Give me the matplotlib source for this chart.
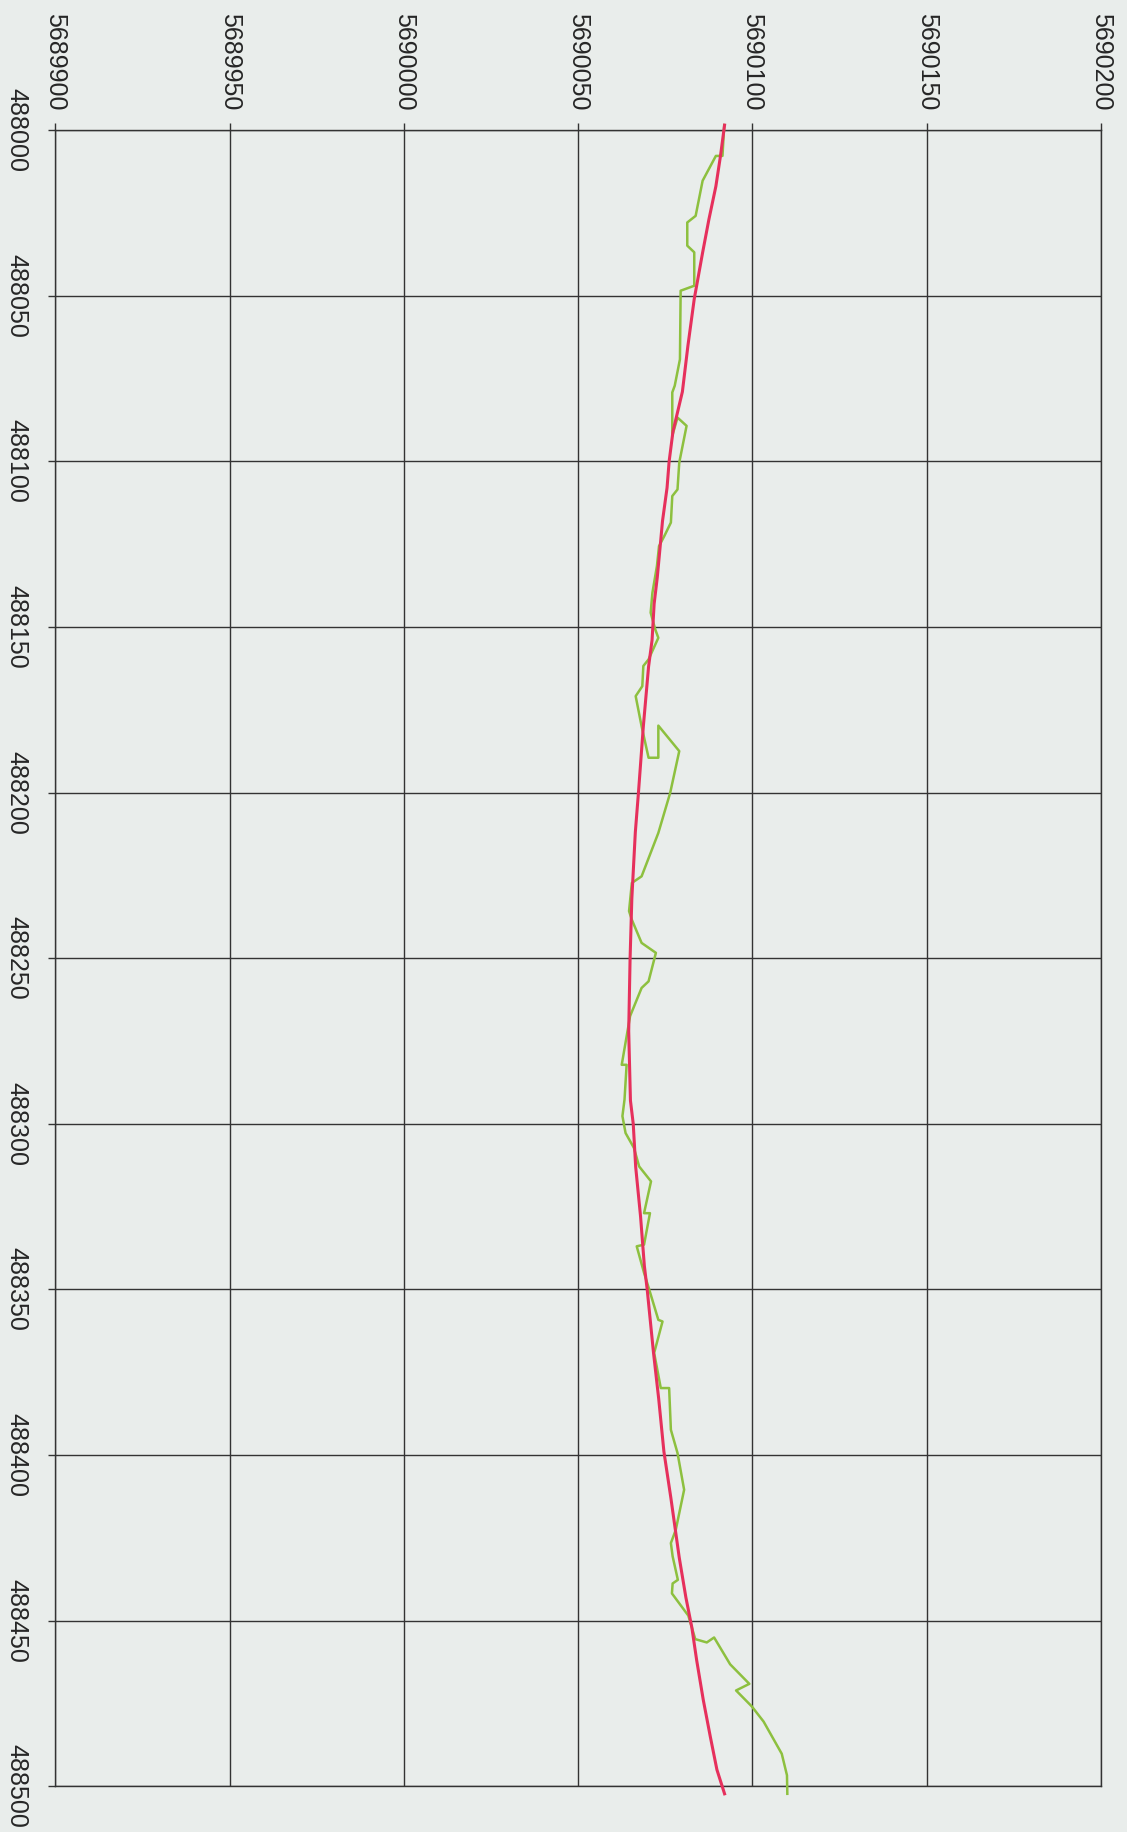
import matplotlib
matplotlib.use("Agg")
import matplotlib.pyplot as plt

# Track data: easting (runs down the page) and northing (runs across)
red_east = [487998.5, 488008, 488017, 488027, 488037, 488051, 488065, 488079,
            488091, 488100, 488108, 488118, 488126, 488135, 488143, 488154,
            488162, 488180, 488200, 488212, 488232, 488250, 488272, 488293,
            488300, 488313, 488328, 488343, 488350, 488369, 488383, 488399,
            488413, 488431, 488443, 488452, 488462, 488474, 488485, 488495,
            488502.3]
red_north = [5690092.0, 5690090.8, 5690089.5, 5690087.5, 5690085.7, 5690083.3,
             5690081.5, 5690079.9, 5690077.2, 5690076.1, 5690075.5, 5690074.2,
             5690073.5, 5690072.7, 5690071.8, 5690071.2, 5690070.2, 5690068.7,
             5690067.3, 5690066.4, 5690065.4, 5690064.9, 5690064.5, 5690065.0,
             5690065.8, 5690066.5, 5690067.9, 5690069.0, 5690069.8, 5690071.6,
             5690073.1, 5690074.6, 5690076.6, 5690079.0, 5690080.9, 5690082.6,
             5690084.0, 5690085.9, 5690087.9, 5690089.8, 5690092.0]

green_east = [487998.5, 488007.8, 488007.8, 488015.3, 488025.9, 488027.9,
              488034.9, 488036.9, 488047.0, 488048.5, 488069.2, 488077.2,
              488079.2, 488092.3, 488086.8, 488089.3, 488100.4, 488108.5,
              488110.5, 488118.5, 488122.6, 488125.6, 488131.6, 488139.7,
              488145.7, 488150.7, 488153.3, 488159.8, 488161.8, 488167.9,
              488170.9, 488180.0, 488189.5, 488189.5, 488179.8, 488187.5,
              488200.1, 488212.2, 488225.3, 488227.3, 488235.8, 488238.4,
              488245.4, 488248.4, 488257.0, 488259.0, 488267.5, 488282.2,
              488282.2, 488292.7, 488297.7, 488302.8, 488307.3, 488312.9,
              488317.4, 488327.0, 488327.0, 488336.5, 488337.0, 488345.0,
              488350.1, 488359.2, 488359.7, 488369.2, 488379.8, 488379.8,
              488392.4, 488399.4, 488410.5, 488422.6, 488426.6, 488430.6,
              488437.7, 488438.8, 488441.8, 488448.5, 488455.6, 488456.6,
              488455.1, 488463.2, 488469.1, 488471.1, 488475.9, 488480.5,
              488490.2, 488496.7, 488502.3]
green_north = [5690091.9, 5690091.4, 5690089.5, 5690085.7, 5690083.7, 5690081.3,
               5690081.3, 5690083.3, 5690083.3, 5690079.4, 5690079.2, 5690077.7,
               5690077.0, 5690077.0, 5690078.5, 5690081.1, 5690079.0, 5690078.5,
               5690077.0, 5690076.6, 5690074.7, 5690073.2, 5690072.6, 5690071.3,
               5690070.8, 5690072.1, 5690073.0, 5690070.2, 5690068.7, 5690068.4,
               5690066.5, 5690068.2, 5690070.2, 5690073.0, 5690073.0, 5690079.0,
               5690076.4, 5690073.0, 5690068.2, 5690065.4, 5690064.6, 5690065.4,
               5690068.2, 5690072.3, 5690070.2, 5690068.2, 5690064.9, 5690062.5,
               5690063.9, 5690063.3, 5690062.7, 5690063.6, 5690066.0, 5690067.5,
               5690070.9, 5690068.9, 5690070.6, 5690068.9, 5690066.8, 5690068.9,
               5690070.4, 5690073.0, 5690074.2, 5690071.8, 5690073.7, 5690076.1,
               5690076.6, 5690078.5, 5690080.4, 5690078.0, 5690076.6, 5690077.1,
               5690078.6, 5690077.1, 5690076.9, 5690081.6, 5690083.6, 5690086.9,
               5690089.0, 5690093.6, 5690099.1, 5690095.3, 5690099.8, 5690103.2,
               5690108.4, 5690109.9, 5690110.0]

north_ticks = [5689900, 5689950, 5690000, 5690050, 5690100, 5690150, 5690200]
east_ticks = [488000, 488050, 488100, 488150, 488200, 488250, 488300,
              488350, 488400, 488450, 488500]

bg = "#e9edeb"
plt.rcParams["font.family"] = ["Liberation Sans", "DejaVu Sans"]

fig = plt.figure(figsize=(11.27, 18.32), dpi=100, facecolor=bg)
ax = fig.add_axes([0.049, 0.025, 0.928, 0.904])
ax.set_facecolor(bg)

ax.plot(green_north, green_east, color="#8dc03f", lw=1.8, clip_on=False, zorder=3)
ax.plot(red_north, red_east, color="#e6305c", lw=2.2, clip_on=False, zorder=4)

ax.set_xlim(5689900, 5690200)
ax.set_ylim(488500, 488000)
ax.set_xticks(north_ticks)
ax.set_yticks(east_ticks)
ax.set_xticklabels([str(v) for v in north_ticks], rotation=-90, fontsize=18)
ax.set_yticklabels([str(v) for v in east_ticks], rotation=-90, fontsize=18,
                   va="center")
ax.xaxis.tick_top()
ax.tick_params(axis="x", top=True, bottom=False, length=5, width=1,
               color="#333333", pad=9, labelcolor="#262626")
ax.tick_params(axis="y", left=True, right=False, length=5, width=1,
               color="#333333", pad=14, labelcolor="#262626")

ax.grid(True, color="#333333", lw=1.0)
for s in ax.spines.values():
    s.set_color("#333333")
    s.set_linewidth(1.0)

fig.savefig("out.png", dpi=100, facecolor=bg)
